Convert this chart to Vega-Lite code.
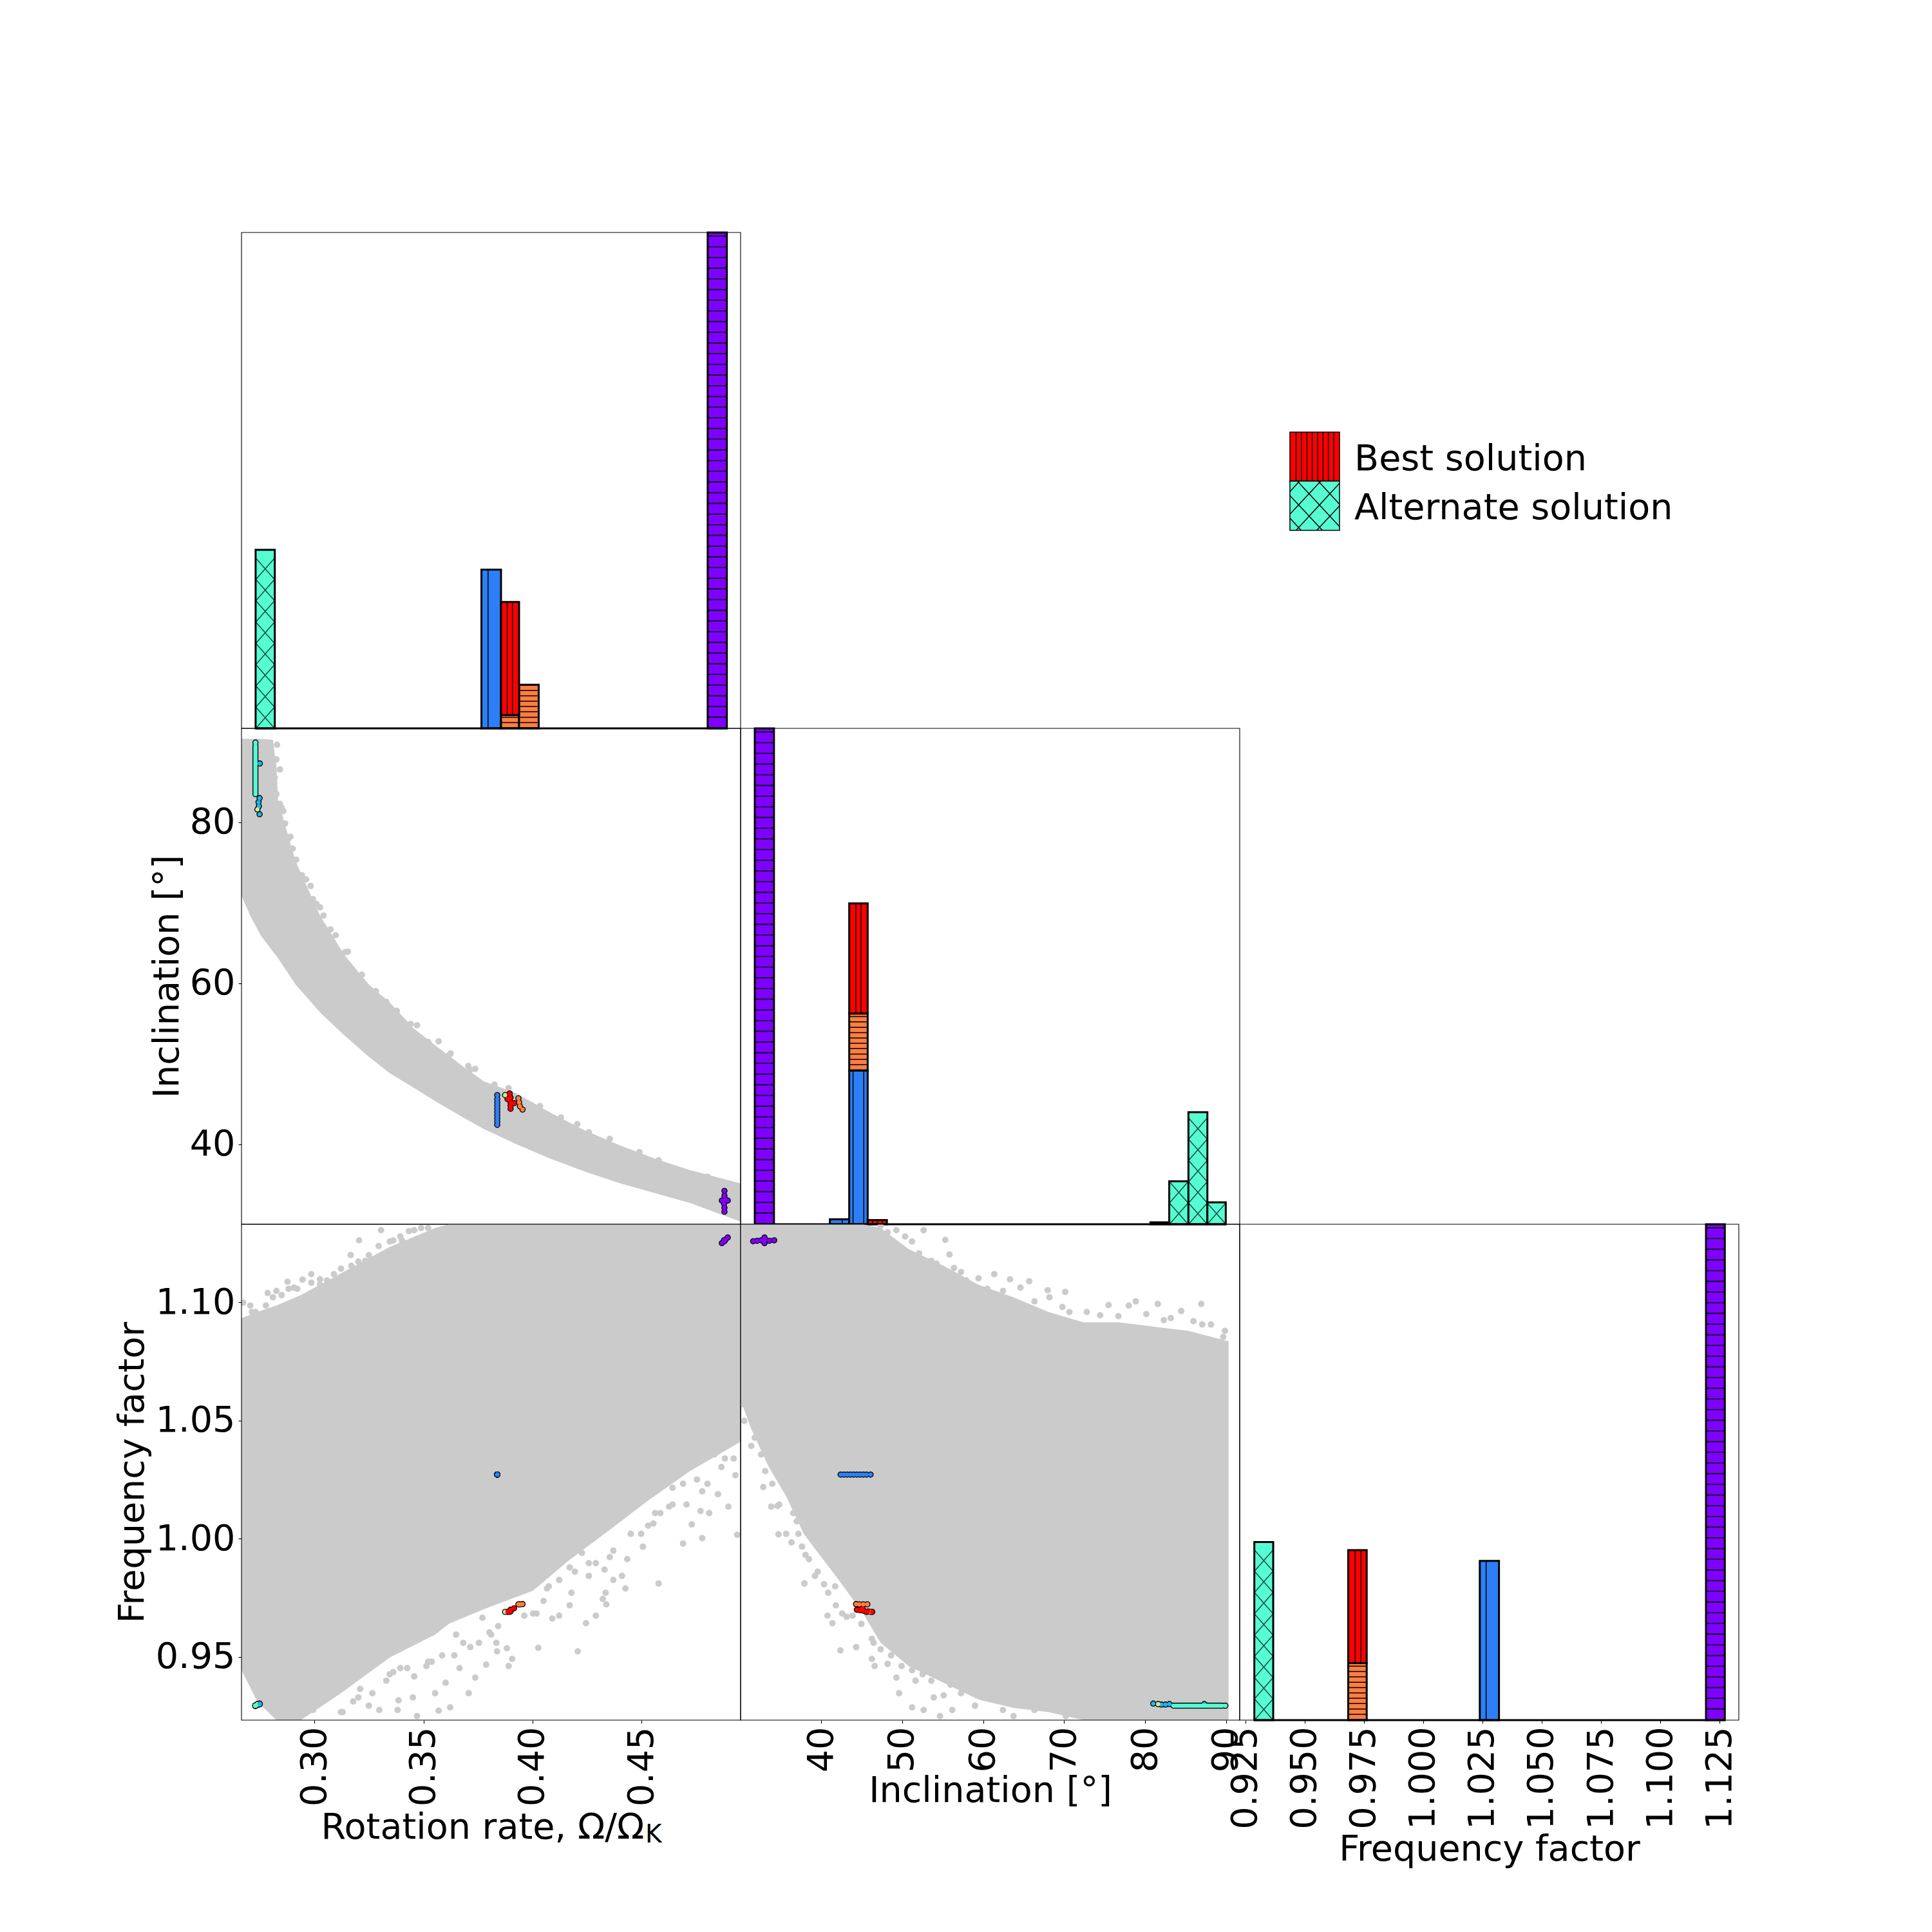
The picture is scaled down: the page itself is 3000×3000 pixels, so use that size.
{
  "$schema": "https://vega.github.io/schema/vega-lite/v6.json",
  "background": "white",
  "padding": {"left": 178, "top": 347, "right": 10, "bottom": 10},
  "columns": 3,
  "spacing": 0,
  "bounds": "flush",
  "config": {
    "font": "DejaVu Sans",
    "view": {"stroke": null},
    "axis": {"grid": false, "domain": false, "tickColor": "black", "tickSize": 5, "tickWidth": 1.1, "labelColor": "black", "titleColor": "black", "labelFontSize": 55.6, "titleFontSize": 55.6, "titleFontWeight": "normal", "labelPadding": 5, "labelOverlap": false, "labelBound": false, "labelFlush": false}
  },
  "datasets": {
    "hist": [
      {"panel": "rot", "sol": "teal", "x0": 0.27297, "x1": 0.28177, "mid": 0.27737, "lo": 0, "hi": 36},
      {"panel": "rot", "sol": "blue", "x0": 0.37654, "x1": 0.38552, "mid": 0.38103, "lo": 0, "hi": 32},
      {"panel": "rot", "sol": "orange", "x0": 0.38552, "x1": 0.3938, "mid": 0.38966, "lo": 0, "hi": 2.7},
      {"panel": "rot", "sol": "orange", "x0": 0.3938, "x1": 0.4028, "mid": 0.3983, "lo": 0, "hi": 8.8},
      {"panel": "rot", "sol": "red", "x0": 0.38552, "x1": 0.3938, "mid": 0.38966, "lo": 2.7, "hi": 25.5},
      {"panel": "rot", "sol": "purple", "x0": 0.4803, "x1": 0.4891, "mid": 0.4847, "lo": 0, "hi": 100},
      {"panel": "inc", "sol": "purple", "x0": 31.8, "x1": 34.17, "mid": 32.98, "lo": 0, "hi": 100},
      {"panel": "inc", "sol": "blue", "x0": 41.07, "x1": 43.46, "mid": 42.26, "lo": 0, "hi": 1},
      {"panel": "inc", "sol": "blue", "x0": 43.46, "x1": 45.74, "mid": 44.6, "lo": 0, "hi": 31},
      {"panel": "inc", "sol": "orange", "x0": 43.46, "x1": 45.74, "mid": 44.6, "lo": 31, "hi": 42.5},
      {"panel": "inc", "sol": "red", "x0": 43.46, "x1": 45.74, "mid": 44.6, "lo": 42.5, "hi": 64.7},
      {"panel": "inc", "sol": "red", "x0": 45.74, "x1": 48.11, "mid": 46.92, "lo": 0, "hi": 0.84},
      {"panel": "inc", "sol": "teal", "x0": 80.65, "x1": 82.97, "mid": 81.81, "lo": 0, "hi": 0.4},
      {"panel": "inc", "sol": "teal", "x0": 82.97, "x1": 85.34, "mid": 84.15, "lo": 0, "hi": 8.66},
      {"panel": "inc", "sol": "teal", "x0": 85.34, "x1": 87.68, "mid": 86.51, "lo": 0, "hi": 22.6},
      {"panel": "inc", "sol": "teal", "x0": 87.68, "x1": 89.95, "mid": 88.81, "lo": 0, "hi": 4.4},
      {"panel": "freq", "sol": "teal", "x0": 0.92883, "x1": 0.93679, "mid": 0.93281, "lo": 0, "hi": 35.9},
      {"panel": "freq", "sol": "orange", "x0": 0.96842, "x1": 0.97621, "mid": 0.97231, "lo": 0, "hi": 11.5},
      {"panel": "freq", "sol": "red", "x0": 0.96842, "x1": 0.97621, "mid": 0.97231, "lo": 11.5, "hi": 34.3},
      {"panel": "freq", "sol": "blue", "x0": 1.02389, "x1": 1.03199, "mid": 1.02794, "lo": 0, "hi": 32.1},
      {"panel": "freq", "sol": "purple", "x0": 1.11927, "x1": 1.12721, "mid": 1.12324, "lo": 0, "hi": 100}
    ],
    "hatchLines": [
      {"panel": "rot", "x": 0.37958, "lo": 0, "hi": 32},
      {"panel": "rot", "x": 0.38838, "lo": 2.7, "hi": 25.5},
      {"panel": "rot", "x": 0.39077, "lo": 2.7, "hi": 25.5},
      {"panel": "inc", "x": 42.59, "lo": 0, "hi": 1},
      {"panel": "inc", "x": 43.93, "lo": 0, "hi": 31},
      {"panel": "inc", "x": 45.26, "lo": 0, "hi": 31},
      {"panel": "inc", "x": 44.28, "lo": 42.5, "hi": 64.7},
      {"panel": "inc", "x": 44.92, "lo": 42.5, "hi": 64.7},
      {"panel": "inc", "x": 46.33, "lo": 0, "hi": 0.84},
      {"panel": "inc", "x": 46.95, "lo": 0, "hi": 0.84},
      {"panel": "inc", "x": 47.55, "lo": 0, "hi": 0.84},
      {"panel": "freq", "x": 0.97135, "lo": 11.5, "hi": 34.3},
      {"panel": "freq", "x": 0.97371, "lo": 11.5, "hi": 34.3},
      {"panel": "freq", "x": 1.02656, "lo": 0, "hi": 32.1}
    ],
    "hatchCross": [
      {"panel": "rot", "x": 0.27737, "y": 2.14}, {"panel": "rot", "x": 0.27737, "y": 6.43}, {"panel": "rot", "x": 0.27737, "y": 10.72}, {"panel": "rot", "x": 0.27737, "y": 15.01}, {"panel": "rot", "x": 0.27737, "y": 19.3}, {"panel": "rot", "x": 0.27737, "y": 23.59}, {"panel": "rot", "x": 0.27737, "y": 27.88}, {"panel": "rot", "x": 0.27737, "y": 32.17},
      {"panel": "inc", "x": 84.15, "y": 2.14}, {"panel": "inc", "x": 84.15, "y": 6.43},
      {"panel": "inc", "x": 86.51, "y": 2.14}, {"panel": "inc", "x": 86.51, "y": 6.43}, {"panel": "inc", "x": 86.51, "y": 10.72}, {"panel": "inc", "x": 86.51, "y": 15.01}, {"panel": "inc", "x": 86.51, "y": 19.3},
      {"panel": "inc", "x": 88.81, "y": 2.14},
      {"panel": "freq", "x": 0.93281, "y": 2.14}, {"panel": "freq", "x": 0.93281, "y": 6.43}, {"panel": "freq", "x": 0.93281, "y": 10.72}, {"panel": "freq", "x": 0.93281, "y": 15.01}, {"panel": "freq", "x": 0.93281, "y": 19.3}, {"panel": "freq", "x": 0.93281, "y": 23.59}, {"panel": "freq", "x": 0.93281, "y": 27.88}, {"panel": "freq", "x": 0.93281, "y": 32.17}
    ],
    "baselines": [
      {"panel": "rot", "x0": 0.27297, "x1": 0.4891, "y": 0},
      {"panel": "inc", "x0": 31.8, "x1": 89.95, "y": 0},
      {"panel": "freq", "x0": 0.92883, "x1": 1.12721, "y": 0}
    ],
    "samples": [
      {"sol": "cyan", "rot": 0.2749, "inc": 87.3, "freq": 0.9300},
      {"sol": "cyan", "rot": 0.2748, "inc": 83.0, "freq": 0.9300},
      {"sol": "cyan", "rot": 0.2743, "inc": 82.5, "freq": 0.9298},
      {"sol": "cyan", "rot": 0.2745, "inc": 82.0, "freq": 0.9298},
      {"sol": "pale", "rot": 0.2738, "inc": 81.6, "freq": 0.9300},
      {"sol": "cyan", "rot": 0.2748, "inc": 81.0, "freq": 0.9302},
      {"sol": "pale", "rot": 0.3874, "inc": 46.1, "freq": 0.9690},
      {"sol": "purple", "rot": 0.4868, "inc": 33.0, "freq": 1.1250},
      {"sol": "purple", "rot": 0.4880, "inc": 31.6, "freq": 1.1258},
      {"sol": "purple", "rot": 0.4880, "inc": 32.1, "freq": 1.1260},
      {"sol": "purple", "rot": 0.4878, "inc": 32.6, "freq": 1.1262},
      {"sol": "purple", "rot": 0.4885, "inc": 33.1, "freq": 1.1265},
      {"sol": "purple", "rot": 0.4880, "inc": 33.6, "freq": 1.1260},
      {"sol": "purple", "rot": 0.4880, "inc": 34.2, "freq": 1.1262},
      {"sol": "purple", "rot": 0.4895, "inc": 33.0, "freq": 1.1274},
      {"sol": "blue", "rot": 0.3838, "inc": 42.4, "freq": 1.0271},
      {"sol": "blue", "rot": 0.3838, "inc": 42.8, "freq": 1.0271},
      {"sol": "blue", "rot": 0.3838, "inc": 43.2, "freq": 1.0271},
      {"sol": "blue", "rot": 0.3838, "inc": 43.6, "freq": 1.0271},
      {"sol": "blue", "rot": 0.3838, "inc": 44.0, "freq": 1.0271},
      {"sol": "blue", "rot": 0.3838, "inc": 44.4, "freq": 1.0271},
      {"sol": "blue", "rot": 0.3838, "inc": 44.8, "freq": 1.0271},
      {"sol": "blue", "rot": 0.3838, "inc": 45.2, "freq": 1.0271},
      {"sol": "blue", "rot": 0.3838, "inc": 45.6, "freq": 1.0271},
      {"sol": "blue", "rot": 0.3838, "inc": 46.1, "freq": 1.0271},
      {"sol": "orange", "rot": 0.3935, "inc": 45.7, "freq": 0.9722},
      {"sol": "orange", "rot": 0.3938, "inc": 45.2, "freq": 0.9722},
      {"sol": "orange", "rot": 0.3942, "inc": 44.7, "freq": 0.9722},
      {"sol": "orange", "rot": 0.3954, "inc": 44.3, "freq": 0.9723},
      {"sol": "red", "rot": 0.3885, "inc": 45.6, "freq": 0.9690},
      {"sol": "red", "rot": 0.3895, "inc": 46.3, "freq": 0.9690},
      {"sol": "red", "rot": 0.3899, "inc": 45.8, "freq": 0.9692},
      {"sol": "red", "rot": 0.3899, "inc": 45.2, "freq": 0.9695},
      {"sol": "red", "rot": 0.3899, "inc": 44.8, "freq": 0.9697},
      {"sol": "red", "rot": 0.3899, "inc": 44.4, "freq": 0.9699},
      {"sol": "red", "rot": 0.3915, "inc": 45.1, "freq": 0.9705},
      {"sol": "teal", "rot": 0.2729, "inc": 83.5, "freq": 0.9293},
      {"sol": "teal", "rot": 0.2729, "inc": 83.8, "freq": 0.9293},
      {"sol": "teal", "rot": 0.2729, "inc": 84.1, "freq": 0.9293},
      {"sol": "teal", "rot": 0.2729, "inc": 84.4, "freq": 0.9293},
      {"sol": "teal", "rot": 0.2729, "inc": 84.7, "freq": 0.9293},
      {"sol": "teal", "rot": 0.2729, "inc": 85.0, "freq": 0.9293},
      {"sol": "teal", "rot": 0.2729, "inc": 85.3, "freq": 0.9293},
      {"sol": "teal", "rot": 0.2729, "inc": 85.6, "freq": 0.9293},
      {"sol": "teal", "rot": 0.2729, "inc": 85.9, "freq": 0.9293},
      {"sol": "teal", "rot": 0.2729, "inc": 86.2, "freq": 0.9293},
      {"sol": "teal", "rot": 0.2729, "inc": 86.5, "freq": 0.9293},
      {"sol": "teal", "rot": 0.2729, "inc": 86.8, "freq": 0.9293},
      {"sol": "teal", "rot": 0.2729, "inc": 87.1, "freq": 0.9293},
      {"sol": "teal", "rot": 0.2729, "inc": 87.4, "freq": 0.9293},
      {"sol": "teal", "rot": 0.2729, "inc": 87.7, "freq": 0.9293},
      {"sol": "teal", "rot": 0.2729, "inc": 88.0, "freq": 0.9293},
      {"sol": "teal", "rot": 0.2729, "inc": 88.3, "freq": 0.9293},
      {"sol": "teal", "rot": 0.2729, "inc": 88.6, "freq": 0.9293},
      {"sol": "teal", "rot": 0.2729, "inc": 88.9, "freq": 0.9293},
      {"sol": "teal", "rot": 0.2729, "inc": 89.2, "freq": 0.9293},
      {"sol": "teal", "rot": 0.2729, "inc": 89.5, "freq": 0.9293},
      {"sol": "teal", "rot": 0.2729, "inc": 89.9, "freq": 0.9293}
    ],
    "bandRotInc": [
      {"x": 0.2665, "top": 90.37, "bottom": 70.86}, {"x": 0.2705, "top": 90.37, "bottom": 68.41}, {"x": 0.2753, "top": 90.37, "bottom": 65.96}, {"x": 0.2809, "top": 90.24, "bottom": 63.92}, {"x": 0.2825, "top": 87.0, "bottom": 63.40}, {"x": 0.2833, "top": 82.69, "bottom": 63.10}, {"x": 0.2913, "top": 75.14, "bottom": 59.84}, {"x": 0.3025, "top": 68.41, "bottom": 56.37}, {"x": 0.3137, "top": 63.51, "bottom": 53.51}, {"x": 0.3249, "top": 59.84, "bottom": 50.86}, {"x": 0.3345, "top": 57.59, "bottom": 48.82}, {"x": 0.3457, "top": 54.33, "bottom": 46.98}, {"x": 0.3553, "top": 52.29, "bottom": 45.35}, {"x": 0.3682, "top": 49.63, "bottom": 43.31}, {"x": 0.3777, "top": 47.80, "bottom": 41.88}, {"x": 0.3922, "top": 46.37, "bottom": 40.04}, {"x": 0.4082, "top": 43.92, "bottom": 38.20}, {"x": 0.4242, "top": 41.67, "bottom": 36.57}, {"x": 0.4402, "top": 39.84, "bottom": 35.14}, {"x": 0.4562, "top": 38.20, "bottom": 33.92}, {"x": 0.4722, "top": 36.78, "bottom": 32.69}, {"x": 0.4954, "top": 35.14, "bottom": 30.37}
    ],
    "bandRotFreq": [
      {"x": 0.2665, "top": 1.0933, "bottom": 0.9444}, {"x": 0.2737, "top": 1.0959, "bottom": 0.9311}, {"x": 0.2825, "top": 1.0986, "bottom": 0.9232}, {"x": 0.2937, "top": 1.1030, "bottom": 0.9232}, {"x": 0.3121, "top": 1.1122, "bottom": 0.9346}, {"x": 0.3345, "top": 1.1234, "bottom": 0.9497}, {"x": 0.3553, "top": 1.1314, "bottom": 0.9594}, {"x": 0.3617, "top": 1.133, "bottom": 0.9640}, {"x": 0.3777, "top": 1.133, "bottom": 0.9701}, {"x": 0.4002, "top": 1.133, "bottom": 0.9780}, {"x": 0.4162, "top": 1.133, "bottom": 0.9904}, {"x": 0.4354, "top": 1.133, "bottom": 1.0037}, {"x": 0.4530, "top": 1.133, "bottom": 1.0161}, {"x": 0.4722, "top": 1.133, "bottom": 1.0286}, {"x": 0.4954, "top": 1.133, "bottom": 1.0410}
    ],
    "bandIncFreq": [
      {"x": 30.05, "top": 1.133, "bottom": 1.0587}, {"x": 31.37, "top": 1.133, "bottom": 1.0463}, {"x": 33.53, "top": 1.133, "bottom": 1.0303}, {"x": 35.68, "top": 1.133, "bottom": 1.0179}, {"x": 37.84, "top": 1.133, "bottom": 1.0020}, {"x": 42.16, "top": 1.133, "bottom": 0.9825}, {"x": 45.18, "top": 1.133, "bottom": 0.9683}, {"x": 47.34, "top": 1.1314, "bottom": 0.9559}, {"x": 50.79, "top": 1.1225, "bottom": 0.9461}, {"x": 55.11, "top": 1.1154, "bottom": 0.9390}, {"x": 59.42, "top": 1.1074, "bottom": 0.9319}, {"x": 63.74, "top": 1.1021, "bottom": 0.9284}, {"x": 68.05, "top": 1.0959, "bottom": 0.9266}, {"x": 72.37, "top": 1.0915, "bottom": 0.9232}, {"x": 76.69, "top": 1.0915, "bottom": 0.9232}, {"x": 81.0, "top": 1.0897, "bottom": 0.9232}, {"x": 85.32, "top": 1.0879, "bottom": 0.9232}, {"x": 90.3, "top": 1.0835, "bottom": 0.9232}
    ],
    "fringeRotInc": [
      {"x": 0.2828, "y": 89.63}, {"x": 0.2841, "y": 86.57}, {"x": 0.2825, "y": 87.80}, {"x": 0.2849, "y": 81.80}, {"x": 0.2857, "y": 81.39}, {"x": 0.2865, "y": 79.84}, {"x": 0.2881, "y": 78.0}, {"x": 0.2900, "y": 76.73}, {"x": 0.2942, "y": 73.43}, {"x": 0.2982, "y": 72.08}, {"x": 0.3009, "y": 69.84}, {"x": 0.3025, "y": 69.43}, {"x": 0.3073, "y": 66.69}, {"x": 0.3140, "y": 63.84}, {"x": 0.3329, "y": 57.67}, {"x": 0.3470, "y": 54.78}, {"x": 0.3569, "y": 52.78}, {"x": 0.3624, "y": 51.27}, {"x": 0.3737, "y": 49.35}, {"x": 0.3705, "y": 49.71}, {"x": 0.4205, "y": 42.49}, {"x": 0.3994, "y": 44.86}, {"x": 0.4490, "y": 39.02},
      {"x": 0.2817, "y": 85.55}, {"x": 0.2825, "y": 83.51}, {"x": 0.2841, "y": 82.29}, {"x": 0.2889, "y": 78.20}, {"x": 0.2916, "y": 75.35}, {"x": 0.2961, "y": 72.90}, {"x": 0.2993, "y": 70.45}, {"x": 0.3041, "y": 68.41}, {"x": 0.3097, "y": 65.96}, {"x": 0.3153, "y": 63.92}, {"x": 0.3217, "y": 61.06}, {"x": 0.3281, "y": 59.02}, {"x": 0.3377, "y": 56.57}, {"x": 0.3441, "y": 54.94}, {"x": 0.3521, "y": 52.69}, {"x": 0.3617, "y": 51.06}, {"x": 0.3714, "y": 49.22}, {"x": 0.3825, "y": 47.39}, {"x": 0.3890, "y": 46.98}, {"x": 0.4034, "y": 44.73}, {"x": 0.4130, "y": 43.31}, {"x": 0.4258, "y": 41.47}, {"x": 0.4354, "y": 40.65}, {"x": 0.4578, "y": 38.0}, {"x": 0.4802, "y": 35.96}
    ],
    "fringeRotFreq": [
      {"x": 0.2673, "y": 1.0998}, {"x": 0.2705, "y": 1.0986}, {"x": 0.2729, "y": 1.0959}, {"x": 0.2785, "y": 1.1039}, {"x": 0.2825, "y": 1.1048}, {"x": 0.2876, "y": 1.1087}, {"x": 0.2945, "y": 1.1096}, {"x": 0.2985, "y": 1.1119}, {"x": 0.3025, "y": 1.1097}, {"x": 0.3121, "y": 1.1142}, {"x": 0.3166, "y": 1.1200}, {"x": 0.3204, "y": 1.1262}, {"x": 0.3233, "y": 1.1175}, {"x": 0.3294, "y": 1.1238}, {"x": 0.3345, "y": 1.1257}, {"x": 0.3393, "y": 1.1278}, {"x": 0.3433, "y": 1.1301}, {"x": 0.3305, "y": 1.1305}, {"x": 0.3521, "y": 1.1314}, {"x": 0.3089, "y": 1.1119}, {"x": 0.2809, "y": 1.1021}, {"x": 0.2905, "y": 1.1062},
      {"x": 0.2881, "y": 1.1057}, {"x": 0.2921, "y": 1.1057}, {"x": 0.3025, "y": 1.1074}, {"x": 0.3057, "y": 1.1092}, {"x": 0.3169, "y": 1.1154}, {"x": 0.3201, "y": 1.1172}, {"x": 0.3249, "y": 1.1199}, {"x": 0.3265, "y": 1.1181}, {"x": 0.3361, "y": 1.1261}, {"x": 0.3401, "y": 1.1261}, {"x": 0.3457, "y": 1.1305}, {"x": 0.3489, "y": 1.1314}, {"x": 0.2713, "y": 1.0959}, {"x": 0.2777, "y": 1.0986}, {"x": 0.2849, "y": 1.1030}, {"x": 0.2985, "y": 1.1083},
      {"x": 0.4930, "y": 1.0268}, {"x": 0.4898, "y": 1.0135}, {"x": 0.4938, "y": 1.0016}, {"x": 0.4778, "y": 1.0002}, {"x": 0.4730, "y": 1.0060}, {"x": 0.4690, "y": 0.9979}, {"x": 0.4578, "y": 0.9810}, {"x": 0.4426, "y": 0.9789}, {"x": 0.4410, "y": 0.9842}, {"x": 0.4338, "y": 0.9722}, {"x": 0.4290, "y": 0.9674}, {"x": 0.4245, "y": 0.9642}, {"x": 0.4207, "y": 0.9523}, {"x": 0.4026, "y": 0.9538}, {"x": 0.4122, "y": 0.9674}, {"x": 0.4090, "y": 0.9662}, {"x": 0.4170, "y": 0.9718}, {"x": 0.3890, "y": 0.9461}, {"x": 0.3906, "y": 0.9491}, {"x": 0.3882, "y": 0.9536}, {"x": 0.3837, "y": 0.9523}, {"x": 0.3787, "y": 0.9467}, {"x": 0.3737, "y": 0.9412}, {"x": 0.3707, "y": 0.9346}, {"x": 0.3622, "y": 0.9286}, {"x": 0.3569, "y": 0.9272}, {"x": 0.3470, "y": 0.9249}, {"x": 0.3381, "y": 0.9275}, {"x": 0.3385, "y": 0.9316}, {"x": 0.3451, "y": 0.9328}, {"x": 0.3553, "y": 0.9346}, {"x": 0.3601, "y": 0.9390}, {"x": 0.3665, "y": 0.9452}, {"x": 0.3249, "y": 0.9293}, {"x": 0.3297, "y": 0.9275}, {"x": 0.3121, "y": 0.9266}, {"x": 0.4642, "y": 1.0144}, {"x": 0.4562, "y": 1.0108}, {"x": 0.4498, "y": 1.0020}, {"x": 0.4370, "y": 0.9949}, {"x": 0.4258, "y": 0.9896}, {"x": 0.4194, "y": 0.9860}, {"x": 0.4066, "y": 0.9789}, {"x": 0.4002, "y": 0.9683}, {"x": 0.3962, "y": 0.9674}, {"x": 0.3842, "y": 0.9630}, {"x": 0.3810, "y": 0.9594}, {"x": 0.3682, "y": 0.9559}, {"x": 0.3521, "y": 0.9479}, {"x": 0.3425, "y": 0.9452}, {"x": 0.3345, "y": 0.9426}, {"x": 0.3201, "y": 0.9328},
      {"x": 0.4642, "y": 1.0215}, {"x": 0.4690, "y": 1.0232}, {"x": 0.4754, "y": 1.0250}, {"x": 0.4834, "y": 1.0356}, {"x": 0.4882, "y": 1.0339}, {"x": 0.4866, "y": 1.0303}, {"x": 0.4922, "y": 1.0339}, {"x": 0.4802, "y": 1.0232}, {"x": 0.4778, "y": 1.0200}, {"x": 0.4850, "y": 1.0188}, {"x": 0.4810, "y": 1.0108}, {"x": 0.4770, "y": 1.0117}, {"x": 0.4706, "y": 1.0144}, {"x": 0.4626, "y": 1.0135}, {"x": 0.4586, "y": 1.0108}, {"x": 0.4530, "y": 1.0055}, {"x": 0.4554, "y": 1.0064}, {"x": 0.4506, "y": 0.9966}, {"x": 0.4450, "y": 1.0020}, {"x": 0.4434, "y": 0.9913}, {"x": 0.4354, "y": 0.9922}, {"x": 0.4330, "y": 0.9869}, {"x": 0.4290, "y": 0.9896}, {"x": 0.4226, "y": 0.9940}, {"x": 0.4258, "y": 0.9842}, {"x": 0.4178, "y": 0.9771}, {"x": 0.4170, "y": 0.9878}, {"x": 0.4122, "y": 0.9825}, {"x": 0.4074, "y": 0.9798}, {"x": 0.4050, "y": 0.9736}, {"x": 0.4018, "y": 0.9683}, {"x": 0.4335, "y": 0.9771}, {"x": 0.4370, "y": 0.9825}, {"x": 0.4322, "y": 0.9745}, {"x": 0.3834, "y": 0.9559}, {"x": 0.3802, "y": 0.9603}, {"x": 0.3770, "y": 0.9665}, {"x": 0.3754, "y": 0.9559}, {"x": 0.3714, "y": 0.9541}, {"x": 0.3649, "y": 0.9594}, {"x": 0.3641, "y": 0.9506}, {"x": 0.3585, "y": 0.9506}, {"x": 0.3537, "y": 0.9479}, {"x": 0.3513, "y": 0.9461}, {"x": 0.3457, "y": 0.9417}, {"x": 0.3393, "y": 0.9452}, {"x": 0.3361, "y": 0.9435}, {"x": 0.3329, "y": 0.9399}, {"x": 0.3265, "y": 0.9346}, {"x": 0.3209, "y": 0.9364}, {"x": 0.3177, "y": 0.9311}, {"x": 0.3129, "y": 0.9266}, {"x": 0.2993, "y": 0.9275}
    ],
    "fringeIncFreq": [
      {"x": 52.65, "y": 1.1305}, {"x": 55.32, "y": 1.1264}, {"x": 55.84, "y": 1.1202}, {"x": 50.36, "y": 1.1278}, {"x": 49.28, "y": 1.1305}, {"x": 51.22, "y": 1.1257}, {"x": 53.60, "y": 1.1175}, {"x": 56.40, "y": 1.1145}, {"x": 57.26, "y": 1.1128}, {"x": 59.42, "y": 1.1101}, {"x": 61.36, "y": 1.1119}, {"x": 63.31, "y": 1.1097}, {"x": 65.68, "y": 1.1089}, {"x": 64.60, "y": 1.1062}, {"x": 67.97, "y": 1.1051}, {"x": 70.13, "y": 1.1044}, {"x": 68.18, "y": 1.1021}, {"x": 69.78, "y": 1.0980}, {"x": 72.80, "y": 1.0959}, {"x": 74.44, "y": 1.0945}, {"x": 75.48, "y": 1.0988}, {"x": 78.84, "y": 1.1004}, {"x": 77.98, "y": 1.0986}, {"x": 81.56, "y": 1.0993}, {"x": 84.45, "y": 1.0963}, {"x": 86.91, "y": 1.0993}, {"x": 82.30, "y": 1.0924}, {"x": 85.96, "y": 1.0920}, {"x": 88.12, "y": 1.0906}, {"x": 89.63, "y": 1.0853},
      {"x": 47.34, "y": 1.1323}, {"x": 48.20, "y": 1.1296}, {"x": 52.08, "y": 1.1207}, {"x": 54.24, "y": 1.1163}, {"x": 57.91, "y": 1.1092}, {"x": 60.50, "y": 1.1057}, {"x": 62.44, "y": 1.1048}, {"x": 66.33, "y": 1.1004}, {"x": 70.64, "y": 1.0959}, {"x": 76.69, "y": 1.0941}, {"x": 80.14, "y": 1.0950}, {"x": 83.16, "y": 1.0933}, {"x": 87.04, "y": 1.0906}, {"x": 89.85, "y": 1.0879},
      {"x": 30.29, "y": 1.0569}, {"x": 31.37, "y": 1.0392}, {"x": 32.58, "y": 1.0356}, {"x": 32.84, "y": 1.0218}, {"x": 34.73, "y": 1.0018}, {"x": 33.83, "y": 1.0135}, {"x": 34.60, "y": 1.0138}, {"x": 35.68, "y": 1.0020}, {"x": 36.33, "y": 0.9984}, {"x": 37.19, "y": 1.0020}, {"x": 38.06, "y": 0.9931}, {"x": 37.93, "y": 0.9810}, {"x": 39.22, "y": 0.9842}, {"x": 40.35, "y": 0.9807}, {"x": 40.78, "y": 0.9674}, {"x": 41.38, "y": 0.9642}, {"x": 41.81, "y": 0.9718}, {"x": 42.37, "y": 0.9527}, {"x": 44.32, "y": 0.9541}, {"x": 43.15, "y": 0.9669}, {"x": 46.47, "y": 0.9559}, {"x": 46.26, "y": 0.9491}, {"x": 46.60, "y": 0.9461}, {"x": 49.28, "y": 0.9412}, {"x": 49.62, "y": 0.9346}, {"x": 51.22, "y": 0.9286}, {"x": 52.65, "y": 0.9275}, {"x": 53.90, "y": 0.9328}, {"x": 54.67, "y": 0.9249}, {"x": 56.18, "y": 0.9275}, {"x": 57.70, "y": 0.9364}, {"x": 58.99, "y": 0.9293}, {"x": 60.72, "y": 0.9346}, {"x": 62.44, "y": 0.9275}, {"x": 63.74, "y": 0.9249}, {"x": 66.33, "y": 0.9275}, {"x": 70.21, "y": 0.9249}, {"x": 73.23, "y": 0.9249}, {"x": 48.20, "y": 0.9470}, {"x": 51.65, "y": 0.9399}, {"x": 55.11, "y": 0.9337},
      {"x": 30.50, "y": 1.0498}, {"x": 31.80, "y": 1.0427}, {"x": 33.09, "y": 1.0286}, {"x": 33.96, "y": 1.0232}, {"x": 34.82, "y": 1.0144}, {"x": 36.55, "y": 1.0108}, {"x": 36.98, "y": 1.0073}, {"x": 37.63, "y": 0.9966}, {"x": 38.49, "y": 0.9913}, {"x": 39.57, "y": 0.9860}, {"x": 40.86, "y": 0.9771}, {"x": 41.73, "y": 0.9798}, {"x": 42.59, "y": 0.9683}, {"x": 43.88, "y": 0.9674}, {"x": 44.96, "y": 0.9639}, {"x": 46.26, "y": 0.9576}, {"x": 47.34, "y": 0.9532}, {"x": 48.63, "y": 0.9506}, {"x": 49.93, "y": 0.9461}, {"x": 51.22, "y": 0.9443}, {"x": 52.52, "y": 0.9426}, {"x": 53.60, "y": 0.9399}, {"x": 55.97, "y": 0.9382}, {"x": 57.26, "y": 0.9346}, {"x": 59.85, "y": 0.9346}, {"x": 62.01, "y": 0.9319}, {"x": 64.60, "y": 0.9301}, {"x": 67.19, "y": 0.9293}, {"x": 77.98, "y": 0.9266}, {"x": 72.37, "y": 0.9266}
    ],
    "legendBoxes": [
      {"sol": "red", "label": "Best solution", "x0": 0.1006, "x1": 0.2, "y0": 0.4987, "y1": 0.5974, "tx": 0.2297, "ty": 0.5429},
      {"sol": "teal", "label": "Alternate solution", "x0": 0.1006, "x1": 0.2, "y0": 0.3992, "y1": 0.4987, "tx": 0.2297, "ty": 0.4442}
    ],
    "legendLines": [
      {"x0": 0.1130, "x1": 0.1130, "y0": 0.4987, "y1": 0.5974}, {"x0": 0.1238, "x1": 0.1238, "y0": 0.4987, "y1": 0.5974}, {"x0": 0.1346, "x1": 0.1346, "y0": 0.4987, "y1": 0.5974}, {"x0": 0.1453, "x1": 0.1453, "y0": 0.4987, "y1": 0.5974}, {"x0": 0.1561, "x1": 0.1561, "y0": 0.4987, "y1": 0.5974}, {"x0": 0.1669, "x1": 0.1669, "y0": 0.4987, "y1": 0.5974}, {"x0": 0.1777, "x1": 0.1777, "y0": 0.4987, "y1": 0.5974}, {"x0": 0.1884, "x1": 0.1884, "y0": 0.4987, "y1": 0.5974},
      {"x0": 0.1154, "y0": 0.4987, "x1": 0.2, "y1": 0.4067}, {"x0": 0.1574, "y0": 0.4987, "x1": 0.2, "y1": 0.4519}, {"x0": 0.1006, "y0": 0.4695, "x1": 0.1651, "y1": 0.4}, {"x0": 0.1006, "y0": 0.424, "x1": 0.1225, "y1": 0.4}, {"x0": 0.1625, "y0": 0.4987, "x1": 0.1006, "y1": 0.4318}, {"x0": 0.2, "y0": 0.4942, "x1": 0.1135, "y1": 0.4}, {"x0": 0.12, "y0": 0.4987, "x1": 0.1006, "y1": 0.4773}, {"x0": 0.2, "y0": 0.4487, "x1": 0.1548, "y1": 0.4}
    ],
    "subscripts": [{"x": 0.4517, "y": 0.9232, "label": "K"}]
  },
  "concat": [
    {
      "width": 775, "height": 770,
      "layer": [
        {"data": {"name": "hist"}, "transform": [{"filter": {"field": "panel", "equal": "rot"}}], "mark": {"type": "rect", "stroke": "black"},
         "encoding": {
           "x": {"field": "x0", "type": "quantitative", "scale": {"domain": [0.2665, 0.4954], "nice": false, "zero": false}, "axis": null},
           "x2": {"field": "x1"},
           "y": {"field": "lo", "type": "quantitative", "scale": {"domain": [0, 100], "nice": false}, "axis": null},
           "y2": {"field": "hi"},
           "color": {"field": "sol", "type": "nominal", "legend": null, "scale": {"domain": ["purple", "blue", "teal", "orange", "red", "cyan", "pale"], "range": ["#8000ff", "#2c7ff7", "#56fcd2", "#ff7e41", "#ff0000", "#1db6e8", "#d4e88c"]}},
           "strokeWidth": {"field": "sol", "type": "nominal", "legend": null, "scale": {"domain": ["purple", "blue", "teal", "orange", "red"], "range": [3, 3, 3, 2, 1.5]}}
         }},
        {"data": {"name": "hist"}, "transform": [{"filter": {"field": "panel", "equal": "rot"}}, {"filter": {"field": "sol", "equal": "purple"}}], "mark": {"type": "rule", "stroke": "black", "strokeWidth": 27, "strokeDash": [1.6, 15]},
         "encoding": {"x": {"field": "mid", "type": "quantitative", "axis": null}, "y": {"field": "lo", "type": "quantitative", "axis": null}, "y2": {"field": "hi"}}},
        {"data": {"name": "hist"}, "transform": [{"filter": {"field": "panel", "equal": "rot"}}, {"filter": {"field": "sol", "equal": "orange"}}], "mark": {"type": "rule", "stroke": "black", "strokeWidth": 27, "strokeDash": [1.5, 6.8]},
         "encoding": {"x": {"field": "mid", "type": "quantitative", "axis": null}, "y": {"field": "lo", "type": "quantitative", "axis": null}, "y2": {"field": "hi"}}},
        {"data": {"name": "hatchLines"}, "transform": [{"filter": {"field": "panel", "equal": "rot"}}], "mark": {"type": "rule", "stroke": "black", "strokeWidth": 1.5},
         "encoding": {"x": {"field": "x", "type": "quantitative", "axis": null}, "y": {"field": "lo", "type": "quantitative", "axis": null}, "y2": {"field": "hi"}}},
        {"data": {"name": "hatchCross"}, "transform": [{"filter": {"field": "panel", "equal": "rot"}}], "mark": {"type": "point", "filled": false, "stroke": "black", "strokeWidth": 1.5, "size": 1089, "shape": "M-0.88,-1L0.88,1M-0.88,1L0.88,-1"},
         "encoding": {"x": {"field": "x", "type": "quantitative", "axis": null}, "y": {"field": "y", "type": "quantitative", "axis": null}}},
        {"data": {"name": "baselines"}, "transform": [{"filter": {"field": "panel", "equal": "rot"}}], "mark": {"type": "rule", "stroke": "black", "strokeWidth": 3},
         "encoding": {"x": {"field": "x0", "type": "quantitative", "axis": null}, "x2": {"field": "x1"}, "y": {"field": "y", "type": "quantitative", "axis": null}}},
        {"data": {"values": [{}]}, "mark": {"type": "rect", "fill": null, "stroke": "black", "strokeWidth": 1.1}, "encoding": {}}
      ]
    },
    {
      "width": 775, "height": 770,
      "data": {"values": [{}]},
      "mark": {"type": "point", "opacity": 0},
      "encoding": {}
    },
    {
      "width": 775, "height": 770,
      "layer": [
        {"data": {"name": "legendBoxes"}, "mark": {"type": "rect", "stroke": "black", "strokeWidth": 1.5},
         "encoding": {
           "x": {"field": "x0", "type": "quantitative", "scale": {"domain": [0, 1], "nice": false}, "axis": null},
           "x2": {"field": "x1"},
           "y": {"field": "y0", "type": "quantitative", "scale": {"domain": [0, 1], "nice": false}, "axis": null},
           "y2": {"field": "y1"},
           "color": {"field": "sol", "type": "nominal", "legend": null, "scale": {"domain": ["red", "teal"], "range": ["#ff0000", "#56fcd2"]}}
         }},
        {"data": {"name": "legendLines"}, "mark": {"type": "rule", "stroke": "black", "strokeWidth": 1.5},
         "encoding": {
           "x": {"field": "x0", "type": "quantitative", "axis": null}, "x2": {"field": "x1"},
           "y": {"field": "y0", "type": "quantitative", "axis": null}, "y2": {"field": "y1"}
         }},
        {"data": {"name": "legendBoxes"}, "mark": {"type": "text", "align": "left", "baseline": "middle", "fontSize": 55.6, "color": "black"},
         "encoding": {
           "x": {"field": "tx", "type": "quantitative", "axis": null},
           "y": {"field": "ty", "type": "quantitative", "axis": null},
           "text": {"field": "label", "type": "nominal"}
         }}
      ]
    },
    {
      "width": 775, "height": 770,
      "layer": [
        {"data": {"name": "bandRotInc"}, "mark": {"type": "area", "color": "#cbcbcb", "clip": true},
         "encoding": {
           "x": {"field": "x", "type": "quantitative", "scale": {"domain": [0.2665, 0.4954], "nice": false, "zero": false}, "axis": null},
           "y": {"field": "bottom", "type": "quantitative", "scale": {"domain": [30.05, 91.67], "nice": false, "zero": false},
                 "axis": {"values": [40, 60, 80], "format": "d", "title": "Inclination [°]", "titleX": -99, "titleY": 385, "titleBaseline": "alphabetic"}},
           "y2": {"field": "top"}
         }},
        {"data": {"name": "fringeRotInc"}, "mark": {"type": "circle", "color": "#cbcbcb", "size": 100, "opacity": 1, "clip": true},
         "encoding": {"x": {"field": "x", "type": "quantitative", "axis": null}, "y": {"field": "y", "type": "quantitative"}}},
        {"data": {"name": "samples"}, "mark": {"type": "circle", "color": "black", "size": 90, "opacity": 1, "clip": true},
         "encoding": {"x": {"field": "rot", "type": "quantitative", "axis": null}, "y": {"field": "inc", "type": "quantitative"}}},
        {"data": {"name": "samples"}, "mark": {"type": "circle", "size": 45, "opacity": 1, "clip": true},
         "encoding": {
           "x": {"field": "rot", "type": "quantitative", "axis": null},
           "y": {"field": "inc", "type": "quantitative"},
           "color": {"field": "sol", "type": "nominal", "legend": null, "scale": {"domain": ["purple", "blue", "teal", "orange", "red", "cyan", "pale"], "range": ["#8000ff", "#2c7ff7", "#56fcd2", "#ff7e41", "#ff0000", "#1db6e8", "#d4e88c"]}}
         }},
        {"data": {"values": [{}]}, "mark": {"type": "rect", "fill": null, "stroke": "black", "strokeWidth": 1.1}, "encoding": {}}
      ]
    },
    {
      "width": 775, "height": 770,
      "layer": [
        {"data": {"name": "hist"}, "transform": [{"filter": {"field": "panel", "equal": "inc"}}], "mark": {"type": "rect", "stroke": "black"},
         "encoding": {
           "x": {"field": "x0", "type": "quantitative", "scale": {"domain": [30.05, 91.67], "nice": false, "zero": false}, "axis": null},
           "x2": {"field": "x1"},
           "y": {"field": "lo", "type": "quantitative", "scale": {"domain": [0, 100], "nice": false}, "axis": null},
           "y2": {"field": "hi"},
           "color": {"field": "sol", "type": "nominal", "legend": null, "scale": {"domain": ["purple", "blue", "teal", "orange", "red", "cyan", "pale"], "range": ["#8000ff", "#2c7ff7", "#56fcd2", "#ff7e41", "#ff0000", "#1db6e8", "#d4e88c"]}},
           "strokeWidth": {"field": "sol", "type": "nominal", "legend": null, "scale": {"domain": ["purple", "blue", "teal", "orange", "red"], "range": [3, 3, 3, 2, 1.5]}}
         }},
        {"data": {"name": "hist"}, "transform": [{"filter": {"field": "panel", "equal": "inc"}}, {"filter": {"field": "sol", "equal": "purple"}}], "mark": {"type": "rule", "stroke": "black", "strokeWidth": 27, "strokeDash": [1.6, 15]},
         "encoding": {"x": {"field": "mid", "type": "quantitative", "axis": null}, "y": {"field": "lo", "type": "quantitative", "axis": null}, "y2": {"field": "hi"}}},
        {"data": {"name": "hist"}, "transform": [{"filter": {"field": "panel", "equal": "inc"}}, {"filter": {"field": "sol", "equal": "orange"}}], "mark": {"type": "rule", "stroke": "black", "strokeWidth": 27, "strokeDash": [1.5, 6.8]},
         "encoding": {"x": {"field": "mid", "type": "quantitative", "axis": null}, "y": {"field": "lo", "type": "quantitative", "axis": null}, "y2": {"field": "hi"}}},
        {"data": {"name": "hatchLines"}, "transform": [{"filter": {"field": "panel", "equal": "inc"}}], "mark": {"type": "rule", "stroke": "black", "strokeWidth": 1.5},
         "encoding": {"x": {"field": "x", "type": "quantitative", "axis": null}, "y": {"field": "lo", "type": "quantitative", "axis": null}, "y2": {"field": "hi"}}},
        {"data": {"name": "hatchCross"}, "transform": [{"filter": {"field": "panel", "equal": "inc"}}], "mark": {"type": "point", "filled": false, "stroke": "black", "strokeWidth": 1.5, "size": 1089, "shape": "M-0.88,-1L0.88,1M-0.88,1L0.88,-1"},
         "encoding": {"x": {"field": "x", "type": "quantitative", "axis": null}, "y": {"field": "y", "type": "quantitative", "axis": null}}},
        {"data": {"name": "baselines"}, "transform": [{"filter": {"field": "panel", "equal": "inc"}}], "mark": {"type": "rule", "stroke": "black", "strokeWidth": 3},
         "encoding": {"x": {"field": "x0", "type": "quantitative", "axis": null}, "x2": {"field": "x1"}, "y": {"field": "y", "type": "quantitative", "axis": null}}},
        {"data": {"values": [{}]}, "mark": {"type": "rect", "fill": null, "stroke": "black", "strokeWidth": 1.1}, "encoding": {}}
      ]
    },
    {
      "width": 775, "height": 770,
      "data": {"values": [{}]},
      "mark": {"type": "point", "opacity": 0},
      "encoding": {}
    },
    {
      "width": 775, "height": 770,
      "layer": [
        {"data": {"name": "bandRotFreq"}, "mark": {"type": "area", "color": "#cbcbcb", "clip": true},
         "encoding": {
           "x": {"field": "x", "type": "quantitative", "scale": {"domain": [0.2665, 0.4954], "nice": false, "zero": false},
                 "axis": {"values": [0.30, 0.35, 0.40, 0.45], "format": ".2f", "labelAngle": -90, "title": "Rotation rate, Ω/Ω", "titleX": 374, "titleY": 183, "titleBaseline": "alphabetic"}},
           "y": {"field": "bottom", "type": "quantitative", "scale": {"domain": [0.9232, 1.133], "nice": false, "zero": false},
                 "axis": {"values": [0.95, 1.00, 1.05, 1.10], "format": ".2f", "title": "Frequency factor", "titleX": -153, "titleY": 385, "titleBaseline": "alphabetic"}},
           "y2": {"field": "top"}
         }},
        {"data": {"name": "fringeRotFreq"}, "mark": {"type": "circle", "color": "#cbcbcb", "size": 100, "opacity": 1, "clip": true},
         "encoding": {"x": {"field": "x", "type": "quantitative"}, "y": {"field": "y", "type": "quantitative"}}},
        {"data": {"name": "samples"}, "mark": {"type": "circle", "color": "black", "size": 90, "opacity": 1, "clip": true},
         "encoding": {"x": {"field": "rot", "type": "quantitative"}, "y": {"field": "freq", "type": "quantitative"}}},
        {"data": {"name": "samples"}, "mark": {"type": "circle", "size": 45, "opacity": 1, "clip": true},
         "encoding": {
           "x": {"field": "rot", "type": "quantitative"},
           "y": {"field": "freq", "type": "quantitative"},
           "color": {"field": "sol", "type": "nominal", "legend": null, "scale": {"domain": ["purple", "blue", "teal", "orange", "red", "cyan", "pale"], "range": ["#8000ff", "#2c7ff7", "#56fcd2", "#ff7e41", "#ff0000", "#1db6e8", "#d4e88c"]}}
         }},
        {"data": {"name": "subscripts"}, "mark": {"type": "text", "align": "left", "baseline": "alphabetic", "fontSize": 39, "dy": 190, "color": "black"},
         "encoding": {"x": {"field": "x", "type": "quantitative"}, "y": {"field": "y", "type": "quantitative"}, "text": {"field": "label", "type": "nominal"}}},
        {"data": {"values": [{}]}, "mark": {"type": "rect", "fill": null, "stroke": "black", "strokeWidth": 1.1}, "encoding": {}}
      ]
    },
    {
      "width": 775, "height": 770,
      "layer": [
        {"data": {"name": "bandIncFreq"}, "mark": {"type": "area", "color": "#cbcbcb", "clip": true},
         "encoding": {
           "x": {"field": "x", "type": "quantitative", "scale": {"domain": [30.05, 91.67], "nice": false, "zero": false},
                 "axis": {"values": [40, 50, 60, 70, 80, 90], "format": "d", "labelAngle": -90, "title": "Inclination [°]", "titleY": 126, "titleBaseline": "alphabetic"}},
           "y": {"field": "bottom", "type": "quantitative", "scale": {"domain": [0.9232, 1.133], "nice": false, "zero": false}, "axis": null},
           "y2": {"field": "top"}
         }},
        {"data": {"name": "fringeIncFreq"}, "mark": {"type": "circle", "color": "#cbcbcb", "size": 100, "opacity": 1, "clip": true},
         "encoding": {"x": {"field": "x", "type": "quantitative"}, "y": {"field": "y", "type": "quantitative", "axis": null}}},
        {"data": {"name": "samples"}, "mark": {"type": "circle", "color": "black", "size": 90, "opacity": 1, "clip": true},
         "encoding": {"x": {"field": "inc", "type": "quantitative"}, "y": {"field": "freq", "type": "quantitative", "axis": null}}},
        {"data": {"name": "samples"}, "mark": {"type": "circle", "size": 45, "opacity": 1, "clip": true},
         "encoding": {
           "x": {"field": "inc", "type": "quantitative"},
           "y": {"field": "freq", "type": "quantitative", "axis": null},
           "color": {"field": "sol", "type": "nominal", "legend": null, "scale": {"domain": ["purple", "blue", "teal", "orange", "red", "cyan", "pale"], "range": ["#8000ff", "#2c7ff7", "#56fcd2", "#ff7e41", "#ff0000", "#1db6e8", "#d4e88c"]}}
         }},
        {"data": {"values": [{}]}, "mark": {"type": "rect", "fill": null, "stroke": "black", "strokeWidth": 1.1}, "encoding": {}}
      ]
    },
    {
      "width": 775, "height": 770,
      "layer": [
        {"data": {"name": "hist"}, "transform": [{"filter": {"field": "panel", "equal": "freq"}}], "mark": {"type": "rect", "stroke": "black"},
         "encoding": {
           "x": {"field": "x0", "type": "quantitative", "scale": {"domain": [0.92266, 1.1331], "nice": false, "zero": false},
                 "axis": {"values": [0.925, 0.95, 0.975, 1.0, 1.025, 1.05, 1.075, 1.1, 1.125], "format": ".3f", "labelAngle": -90, "title": "Frequency factor", "titleY": 217, "titleBaseline": "alphabetic"}},
           "x2": {"field": "x1"},
           "y": {"field": "lo", "type": "quantitative", "scale": {"domain": [0, 100], "nice": false}, "axis": null},
           "y2": {"field": "hi"},
           "color": {"field": "sol", "type": "nominal", "legend": null, "scale": {"domain": ["purple", "blue", "teal", "orange", "red", "cyan", "pale"], "range": ["#8000ff", "#2c7ff7", "#56fcd2", "#ff7e41", "#ff0000", "#1db6e8", "#d4e88c"]}},
           "strokeWidth": {"field": "sol", "type": "nominal", "legend": null, "scale": {"domain": ["purple", "blue", "teal", "orange", "red"], "range": [3, 3, 3, 2, 1.5]}}
         }},
        {"data": {"name": "hist"}, "transform": [{"filter": {"field": "panel", "equal": "freq"}}, {"filter": {"field": "sol", "equal": "purple"}}], "mark": {"type": "rule", "stroke": "black", "strokeWidth": 27, "strokeDash": [1.6, 15]},
         "encoding": {"x": {"field": "mid", "type": "quantitative"}, "y": {"field": "lo", "type": "quantitative", "axis": null}, "y2": {"field": "hi"}}},
        {"data": {"name": "hist"}, "transform": [{"filter": {"field": "panel", "equal": "freq"}}, {"filter": {"field": "sol", "equal": "orange"}}], "mark": {"type": "rule", "stroke": "black", "strokeWidth": 27, "strokeDash": [1.5, 6.8]},
         "encoding": {"x": {"field": "mid", "type": "quantitative"}, "y": {"field": "lo", "type": "quantitative", "axis": null}, "y2": {"field": "hi"}}},
        {"data": {"name": "hatchLines"}, "transform": [{"filter": {"field": "panel", "equal": "freq"}}], "mark": {"type": "rule", "stroke": "black", "strokeWidth": 1.5},
         "encoding": {"x": {"field": "x", "type": "quantitative"}, "y": {"field": "lo", "type": "quantitative", "axis": null}, "y2": {"field": "hi"}}},
        {"data": {"name": "hatchCross"}, "transform": [{"filter": {"field": "panel", "equal": "freq"}}], "mark": {"type": "point", "filled": false, "stroke": "black", "strokeWidth": 1.5, "size": 1089, "shape": "M-0.88,-1L0.88,1M-0.88,1L0.88,-1"},
         "encoding": {"x": {"field": "x", "type": "quantitative"}, "y": {"field": "y", "type": "quantitative", "axis": null}}},
        {"data": {"name": "baselines"}, "transform": [{"filter": {"field": "panel", "equal": "freq"}}], "mark": {"type": "rule", "stroke": "black", "strokeWidth": 3},
         "encoding": {"x": {"field": "x0", "type": "quantitative"}, "x2": {"field": "x1"}, "y": {"field": "y", "type": "quantitative", "axis": null}}},
        {"data": {"values": [{}]}, "mark": {"type": "rect", "fill": null, "stroke": "black", "strokeWidth": 1.1}, "encoding": {}}
      ]
    }
  ]
}
